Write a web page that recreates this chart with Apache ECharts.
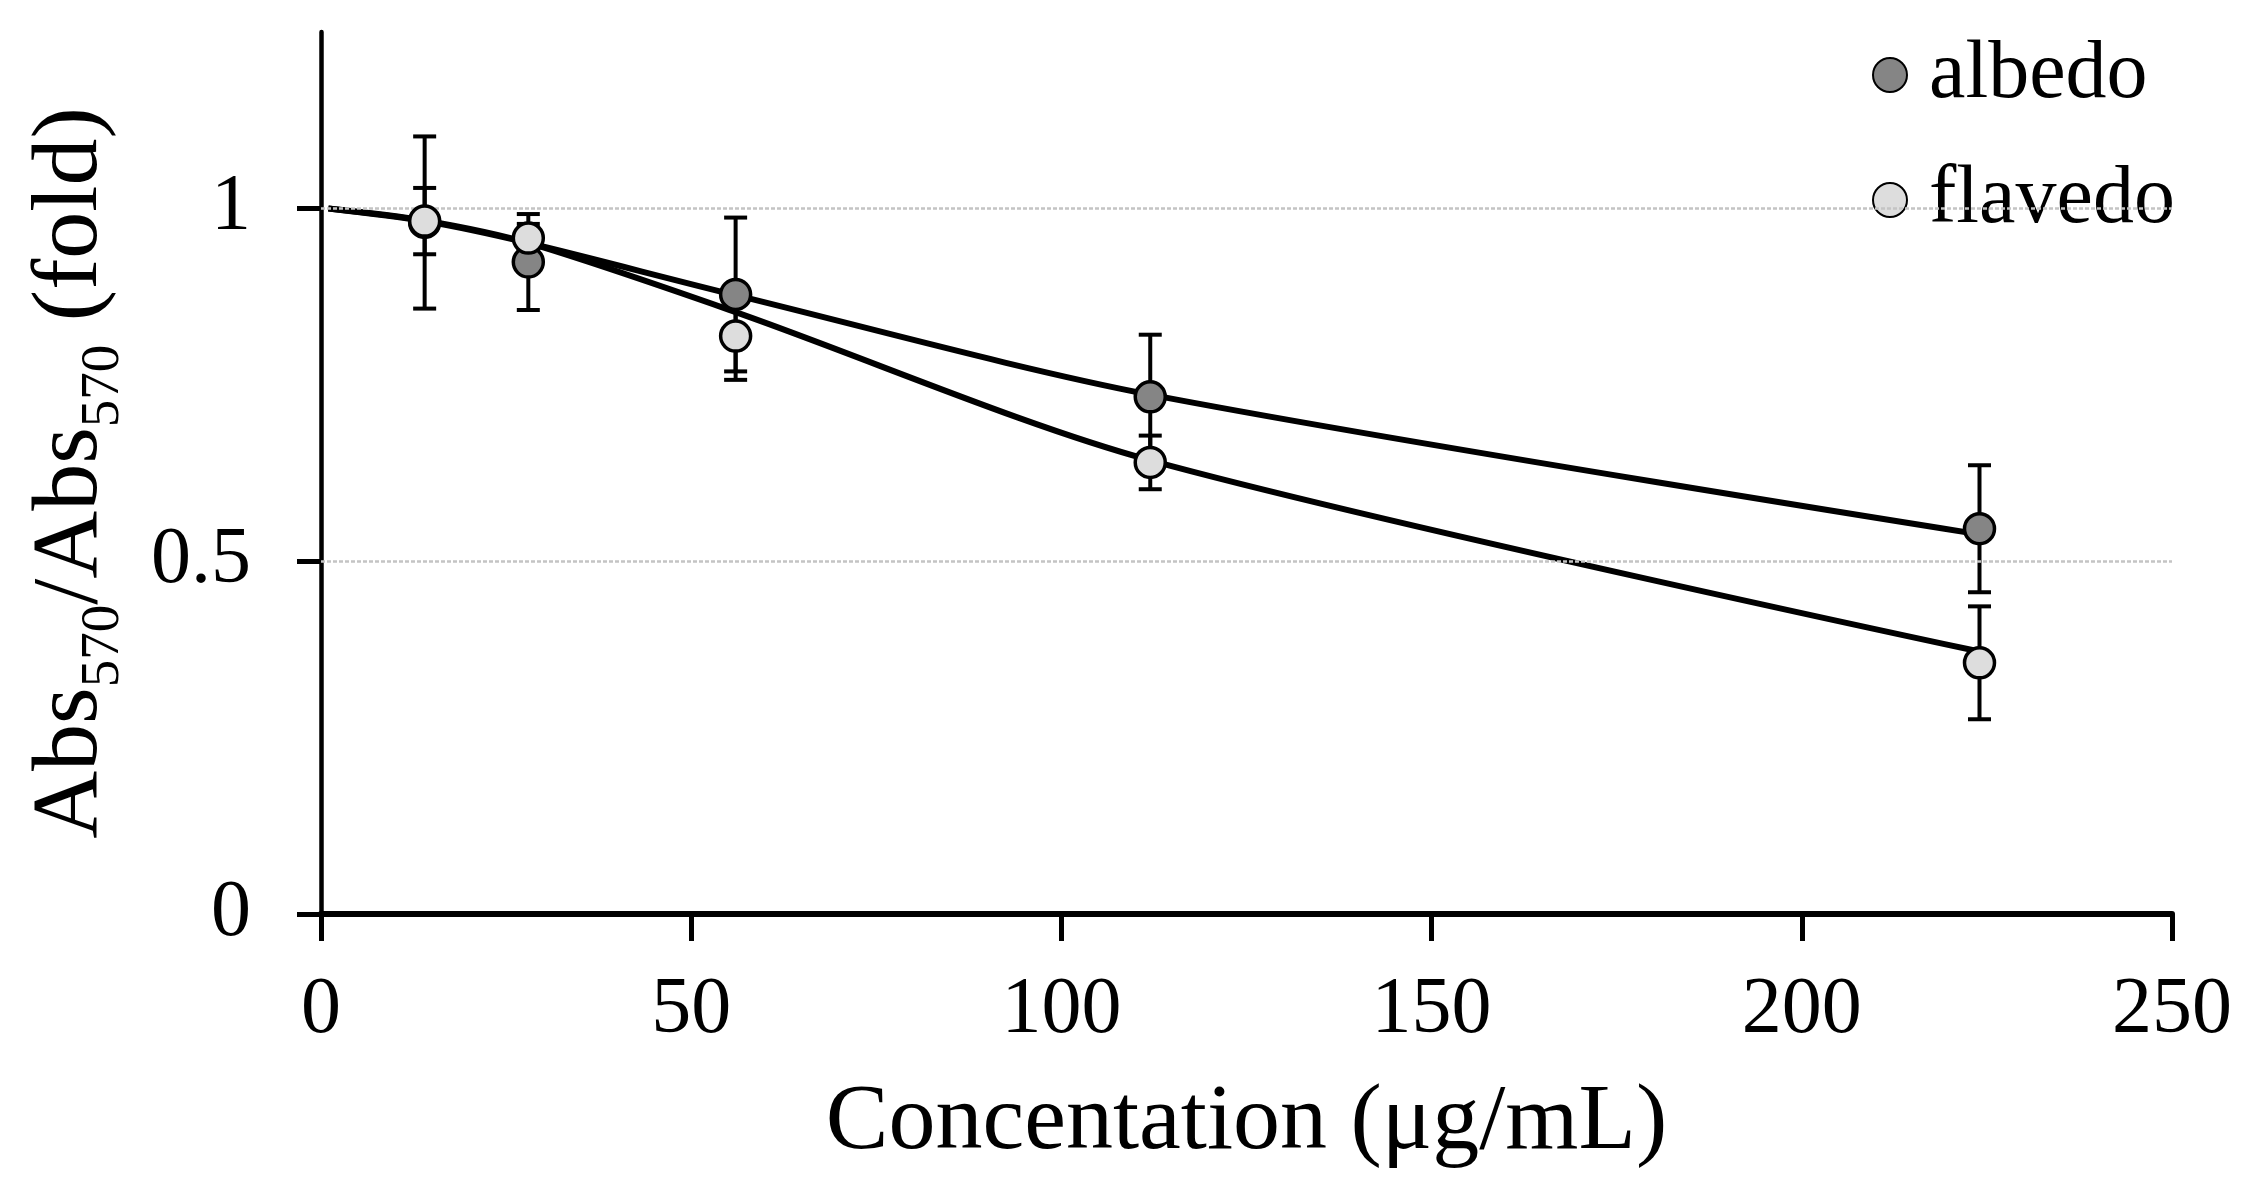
<!DOCTYPE html>
<html>
<head>
<meta charset="utf-8">
<script src="https://cdn.jsdelivr.net/npm/echarts@6/dist/echarts.min.js"></script>
<style>
html,body{margin:0;padding:0;background:#fff;}
#chart{width:2256px;height:1204px;}
</style>
</head>
<body>
<div id="chart"></div>
<script>
// ---- data ----
const concentrations = [14, 28, 56, 112, 224];
const albedoMean = [0.980, 0.924, 0.878, 0.733, 0.546];
const albedoErr  = [0.122, 0.068, 0.109, 0.088, 0.090];
const flavedoMean = [0.982, 0.958, 0.819, 0.640, 0.356];
const flavedoErr  = [0.047, 0.020, 0.062, 0.038, 0.080];
const fitX = [1, 14, 28, 56, 112, 224];
const albedoFit  = [1.000, 0.982, 0.951, 0.877, 0.736, 0.538];
const flavedoFit = [1.000, 0.983, 0.951, 0.853, 0.643, 0.372];
const xTicks = [0, 50, 100, 150, 200, 250];
const yTicks = [0, 0.5, 1];
const gridValues = [0.5, 1];

const FONT = '"Liberation Serif", "Times New Roman", serif';

function pairs(xs, ys) { return xs.map((x, i) => [x, ys[i]]); }
function errData(xs, m, e) { return xs.map((x, i) => [x, m[i] - e[i], m[i] + e[i]]); }

function renderErr(params, api) {
  const x = api.value(0), lo = api.value(1), hi = api.value(2);
  const a = api.coord([x, lo]), b = api.coord([x, hi]);
  const hw = 11.5;
  const st = { stroke: '#000', lineWidth: 4 };
  return {
    type: 'group',
    children: [
      { type: 'line', shape: { x1: a[0], y1: a[1], x2: b[0], y2: b[1] }, style: st },
      { type: 'line', shape: { x1: a[0] - hw, y1: a[1], x2: a[0] + hw, y2: a[1] }, style: st },
      { type: 'line', shape: { x1: b[0] - hw, y1: b[1], x2: b[0] + hw, y2: b[1] }, style: st }
    ]
  };
}

const chart = echarts.init(document.getElementById('chart'));
chart.setOption({
  backgroundColor: '#fff',
  animation: false,
  textStyle: { fontFamily: FONT, color: '#000' },
  grid: { left: 321, right: 84, top: 32, bottom: 290, containLabel: false },
  legend: {
    data: ['albedo', 'flavedo'],
    orient: 'vertical',
    left: 1867,
    top: 29,
    itemWidth: 34,
    itemHeight: 34,
    itemGap: 43,
    icon: 'circle',
    textStyle: { fontFamily: FONT, fontSize: 82, color: '#000', padding: [0, 0, 0, 17] }
  },
  xAxis: {
    type: 'value',
    min: 0, max: 250, interval: 50,
    name: 'Concentation (μg/mL)',
    nameLocation: 'middle',
    nameGap: 162,
    nameTextStyle: { fontFamily: FONT, fontSize: 94, color: '#000' },
    axisLine: { show: true, lineStyle: { color: '#000', width: 6 } },
    axisTick: { show: true, inside: false, length: 27, lineStyle: { color: '#000', width: 5 } },
    axisLabel: { fontFamily: FONT, fontSize: 80, color: '#000', margin: 57,
      customValues: xTicks },
    splitLine: { show: false }
  },
  yAxis: {
    type: 'value',
    min: 0, max: 1.25, interval: 0.5,
    name: '{m|Abs}{s|570}{m|/Abs}{s|570}{m| (fold)}',
    nameLocation: 'middle',
    nameRotate: 90,
    nameGap: 190,
    nameTextStyle: {
      fontFamily: FONT, color: '#000',
      rich: {
        m: { fontFamily: FONT, fontSize: 94, lineHeight: 120, color: '#000' },
        s: { fontFamily: FONT, fontSize: 55, color: '#000', verticalAlign: 'bottom' }
      }
    },
    axisLine: { show: true, lineStyle: { color: '#000', width: 4.5 } },
    axisTick: { show: true, inside: false, length: 24, lineStyle: { color: '#000', width: 5 },
      customValues: yTicks },
    axisLabel: { fontFamily: FONT, fontSize: 80, color: '#000', margin: 70,
      customValues: yTicks,
      formatter: v => String(v) },
    splitLine: { show: false }
  },
  series: [
    {
      name: 'albedo fit', type: 'line', data: pairs(fitX, albedoFit),
      smooth: 0.3, showSymbol: false, symbol: 'none', z: 2,
      lineStyle: { color: '#000', width: 6 },
      markLine: {
        silent: true, symbol: 'none', label: { show: false },
        lineStyle: { color: '#c4c4c4', width: 2.5, type: [4, 2] },
        data: gridValues.map(v => ({ yAxis: v }))
      }
    },
    {
      name: 'flavedo fit', type: 'line', data: pairs(fitX, flavedoFit),
      smooth: 0.3, showSymbol: false, symbol: 'none', z: 2,
      lineStyle: { color: '#000', width: 6 }
    },
    { name: 'albedo err', type: 'custom', renderItem: renderErr, z: 3,
      encode: { x: 0, y: [1, 2] }, data: errData(concentrations, albedoMean, albedoErr) },
    { name: 'flavedo err', type: 'custom', renderItem: renderErr, z: 3,
      encode: { x: 0, y: [1, 2] }, data: errData(concentrations, flavedoMean, flavedoErr) },
    {
      name: 'albedo', type: 'scatter', data: pairs(concentrations, albedoMean),
      symbol: 'circle', symbolSize: 30, z: 4,
      itemStyle: { color: '#858585', borderColor: '#000', borderWidth: 3.5, opacity: 1 }
    },
    {
      name: 'flavedo', type: 'scatter', data: pairs(concentrations, flavedoMean),
      symbol: 'circle', symbolSize: 30, z: 5,
      itemStyle: { color: '#dddddd', borderColor: '#000', borderWidth: 3.5, opacity: 1 }
    }
  ]
});
</script>
</body>
</html>
